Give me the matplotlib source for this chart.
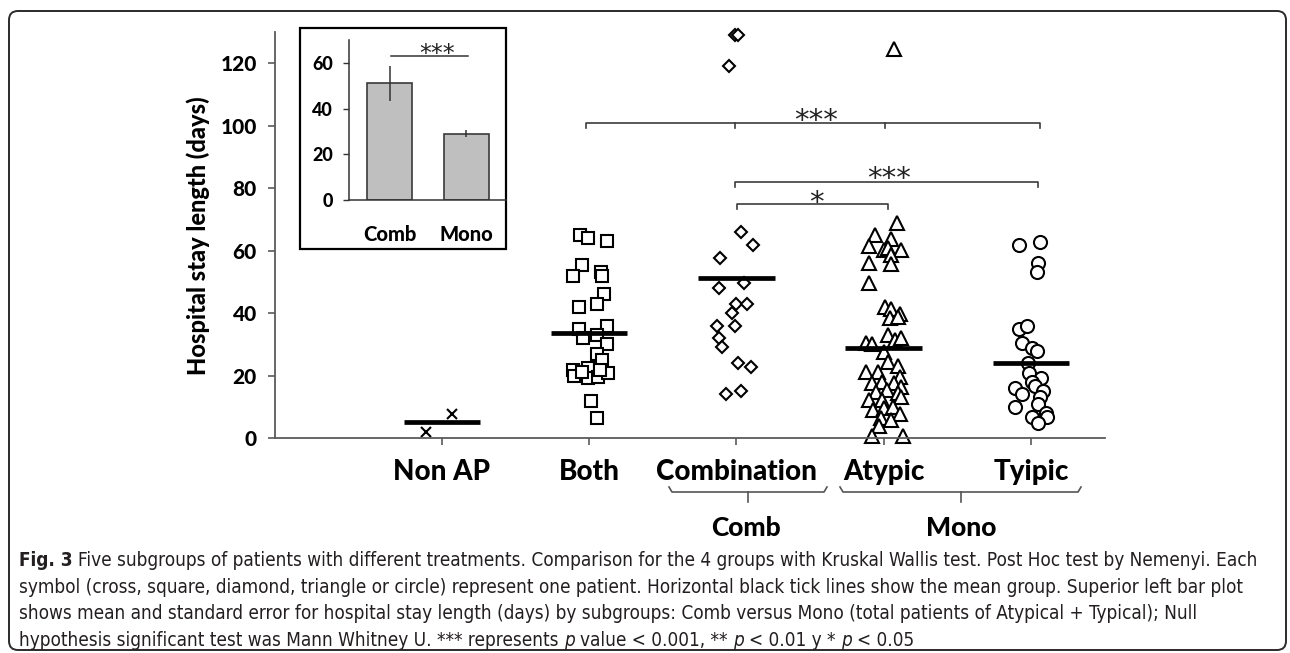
import os
import matplotlib
matplotlib.use('Agg')
import matplotlib.pyplot as plt
from matplotlib import font_manager
from matplotlib.font_manager import FontProperties
from matplotlib.patches import FancyBboxPatch, Rectangle
from matplotlib.lines import Line2D
import numpy as np

W, H = 1290, 653

groups = ['Non AP', 'Both', 'Combination', 'Atypic', 'Tyipic']
means = [5, 33.5, 51.3, 28.8, 24]

# hospital stay (days) per patient and the small sideways shift
nonap_y = [1.9, 7.7]
nonap_dx = [-0.11, 0.07]

both_y = [65, 64, 63, 55.4, 52, 53, 52, 46, 43, 42, 35, 32, 36, 33, 30, 27, 25,
          21.8, 19.7, 22.5, 19.2, 19.6, 20.9, 21.8, 21, 12, 6.3]
both_dx = [-0.06, -0.01, 0.12, -0.05, -0.11, 0.08, 0.09, 0.10, 0.05, -0.07, -0.07,
           -0.04, 0.12, 0.05, 0.12, 0.05, 0.09, -0.11, -0.10, -0.01, -0.01, 0.06,
           0.13, 0.07, -0.05, 0.01, 0.05]

comb_y = [66, 61.8, 57.6, 49.6, 48, 43, 43, 40, 35.8, 35.8, 32, 29, 24, 22.7,
          14, 15, 129, 129, 119]
comb_dx = [0.03, 0.11, -0.11, 0.05, -0.12, 0.0, 0.07, -0.03, -0.13, -0.01, -0.12,
           -0.10, 0.01, 0.10, -0.07, 0.03, -0.01, 0.01, -0.05]

atyp_y = [68.8, 65, 61.4, 63.7, 60.2, 60.8, 60.2, 58.6, 56, 55.7, 49.6,
          42, 41.3, 39.7, 38.4, 38.7,
          30.4, 30, 33, 31.4, 32, 27.5,
          24.3, 23, 21.1, 21.1, 19.5, 17.6, 17.9, 17.6, 16.3, 14.7, 15.4, 14.4,
          13.1, 12.2, 12.2, 9, 9.6, 10, 7.7, 6.4, 5.8, 3.8, 0.8, 0.8, 124.5]
atyp_dx = [0.09, -0.06, -0.10, 0.05, 0.0, 0.03, 0.12, 0.05, -0.10, 0.05, -0.10,
           0.01, 0.05, 0.11, 0.04, 0.10,
           -0.12, -0.08, 0.03, 0.08, 0.12, 0.0,
           0.03, 0.10, -0.12, -0.04, 0.11, -0.08, -0.01, 0.07, 0.12, -0.05, 0.02, 0.10,
           0.12, -0.10, -0.01, -0.07, 0.0, 0.06, 0.11, -0.02, 0.05, -0.03, -0.08, 0.13, 0.07]

typ_y = [61.8, 62.8, 56, 53, 34.8, 35.8, 30.4, 28.8, 27.8, 24, 20.8, 19.2, 18,
         16.6, 16, 14.1, 15, 13, 10.9, 9.9, 8, 6.8, 6.8, 4.8]
typ_dx = [-0.08, 0.06, 0.05, 0.04, -0.08, -0.03, -0.06, 0.01, 0.04, -0.02, -0.01,
          0.07, 0.01, 0.03, -0.11, -0.06, 0.08, 0.06, 0.05, -0.11, 0.10, 0.01, 0.11, 0.05]

inset_labels = ['Comb', 'Mono']
inset_means = [51, 29]
inset_err = [7.6, 1.5]

caption = [
    [("Fig. 3", 'bold', 'normal'),
     ("Five subgroups of patients with different treatments. Comparison for the 4 groups with Kruskal Wallis test. Post Hoc test by Nemenyi. Each", 'normal', 'normal')],
    [("symbol (cross, square, diamond, triangle or circle) represent one patient. Horizontal black tick lines show the mean group. Superior left bar plot", 'normal', 'normal')],
    [("shows mean and standard error for hospital stay length (days) by subgroups: Comb versus Mono (total patients of Atypical + Typical); Null", 'normal', 'normal')],
    [("hypothesis significant test was Mann Whitney U. *** represents", 'normal', 'normal'),
     ("p", 'normal', 'italic'), ("value < 0.001, **", 'normal', 'normal'),
     ("p", 'normal', 'italic'), ("< 0.01 y *", 'normal', 'normal'),
     ("p", 'normal', 'italic'), ("< 0.05", 'normal', 'normal')],
]

# a heavy face taken straight from its file (the reference labels are very dark)
fonts = font_manager.fontManager.ttflist
bold_file = None
for suffix in ['-Heavy', '-Black', '-ExtraBold', '-Bold']:
    for f in fonts:
        base = os.path.splitext(os.path.basename(f.fname))[0]
        if f.name in ('Lato', 'Open Sans', 'Noto Sans', 'Roboto') and base.endswith(suffix):
            bold_file = f.fname
            break
    if bold_file:
        break


def B(size):
    if bold_file:
        return FontProperties(fname=bold_file, size=size)
    return FontProperties(family='DejaVu Sans', weight='bold', size=size)


cap_font, cap_stretch = 'Lato', 'normal'
for f in fonts:
    if 'Narrow' in f.name or f.stretch in ('condensed', 'semi-condensed'):
        cap_font, cap_stretch = f.name, f.stretch
        break

fig = plt.figure(figsize=(W / 100, H / 100), dpi=100)
T = fig.dpi_scale_trans


def P(x, y):
    # picture pixels (origin top-left) -> inches
    return x / 100, (H - y) / 100


# outer rounded frame
fig.add_artist(FancyBboxPatch(P(9, 650), (1286 - 9) / 100, (650 - 11) / 100,
                              boxstyle='round,pad=0,rounding_size=0.09',
                              fill=False, lw=1.4, ec='#2b2b2b', transform=T))

# main scatter
ax = fig.add_axes([275 / W, 1 - 438 / H, (1105 - 275) / W, (438 - 32) / H])
ax.set_xlim(-0.134, 5.503)
ax.set_ylim(0, 130)
for s in ['top', 'right']:
    ax.spines[s].set_visible(False)
for s in ['left', 'bottom']:
    ax.spines[s].set_color('#5a5a5a')
    ax.spines[s].set_linewidth(1.3)

style = dict(ls='none', mfc='white', mec='black', mew=1.5, clip_on=False, zorder=2)
ax.plot(1 + np.array(nonap_dx), nonap_y, ls='none', marker='x', ms=7, mew=1.5,
        color='black', clip_on=False)
ax.plot(2 + np.array(both_dx), both_y, marker='s', ms=8.6, **style)
ax.plot(3 + np.array(comb_dx), comb_y, marker='D', ms=5.8, **style)
ax.plot(4 + np.array(atyp_dx), atyp_y, marker='^', ms=9.5, **style)
ax.plot(5 + np.array(typ_dx), typ_y, marker='o', ms=9.4, **style)

pos = np.arange(1, 6)
ax.hlines(means, pos - 0.26, pos + 0.26, colors='black', lw=3.4, zorder=3)

ax.set_xticks(pos)
ax.set_xticklabels(groups, fontproperties=B(20))
ax.set_yticks(range(0, 121, 20))
ax.set_yticklabels([str(v) for v in range(0, 121, 20)], fontproperties=B(15))
ax.tick_params(axis='x', length=5, width=1.2, color='#5a5a5a', pad=10)
ax.tick_params(axis='y', length=5, width=1.2, color='#5a5a5a', pad=8)

fig.text(*P(198, 236), 'Hospital stay length (days)', rotation=90,
         fontproperties=B(17), ha='center', va='center', transform=T)


# significance brackets
def bracket(x0, x1, y, mids=()):
    kw = dict(color='#3c3c3c', lw=1.2, clip_on=False)
    ax.plot([x0, x0, x1, x1], [y - 1.6, y, y, y - 1.6], **kw)
    for m in mids:
        ax.plot([m, m], [y, y - 1.6], **kw)


bracket(1.978, 5.061, 100.8, mids=(2.99, 4.009))
bracket(2.99, 5.047, 81.9)
bracket(3.003, 4.03, 74.9)
ast = dict(ha='center', va='baseline', fontsize=21, family='DejaVu Sans', color='#222222')
ax.text(3.54, 98.9, '***', **ast)
ax.text(4.036, 80.3, '***', **ast)
ax.text(3.54, 72.7, '*', **ast)

# group braces under the labels
bk = dict(color='#555555', lw=1.2, transform=T)
for x0, x1, xm in [(669, 827, 748), (840, 1081, 961)]:
    pts = [P(x0, 487), P(x0 + 3, 492), P(x1 - 3, 492), P(x1, 487)]
    fig.add_artist(Line2D([p[0] for p in pts], [p[1] for p in pts], **bk))
    a, b = P(xm, 492), P(xm, 502)
    fig.add_artist(Line2D([a[0], b[0]], [a[1], b[1]], **bk))
fig.text(*P(746, 528), 'Comb', fontproperties=B(19), ha='center', va='center', transform=T)
fig.text(*P(961, 528), 'Mono', fontproperties=B(19), ha='center', va='center', transform=T)

# inset bar plot
fig.add_artist(Rectangle(P(300, 249), (506 - 300) / 100, (249 - 28) / 100,
                         fc='white', ec='black', lw=1.6, transform=T, zorder=4))
axi = fig.add_axes([349 / W, 1 - 200 / H, (506 - 349) / W, (200 - 40) / H], zorder=5)
axi.patch.set_alpha(0)
axi.bar([0, 1], inset_means, width=0.584, color='#bfbfbf', edgecolor='#3a3a3a', lw=1.2)
axi.vlines([0, 1], np.array(inset_means) - np.array(inset_err),
           np.array(inset_means) + np.array(inset_err), color='#333333', lw=1.1)
axi.set_xlim(-0.526, 1.513)
axi.set_ylim(0, 70)
for s in ['top', 'right']:
    axi.spines[s].set_visible(False)
for s in ['left', 'bottom']:
    axi.spines[s].set_color('#333333')
    axi.spines[s].set_linewidth(1.1)
axi.set_xticks([0, 1])
axi.set_xticklabels(inset_labels, fontproperties=B(14.5))
axi.set_yticks(range(0, 61, 20))
axi.set_yticklabels([str(v) for v in range(0, 61, 20)], fontproperties=B(13))
axi.tick_params(axis='x', length=0, pad=18)
axi.tick_params(axis='y', length=4.5, width=1, color='#333333', pad=7)
axi.plot([0.02, 1.02], [63, 63], color='#333333', lw=1.1)
axi.text(0.617, 60.8, '***', ha='center', va='baseline', fontsize=17,
         family='DejaVu Sans', color='#222222')

# caption
r = fig.canvas.get_renderer()
cap = dict(family=[cap_font, 'DejaVu Sans'], fontstretch=cap_stretch)


def width_px(s, **kw):
    t = fig.text(0, 0, s, **kw)
    w = t.get_window_extent(r).width
    t.remove()
    return w


full1 = ' '.join(s for s, _, _ in caption[0])
fs = 13 * 1228 / width_px(full1, fontsize=13, **cap)
sp = width_px('a a', fontsize=fs, **cap) - width_px('aa', fontsize=fs, **cap)

for row, yb in zip(caption, [566, 593, 619, 646]):
    x = 19
    for s, wgt, sty in row:
        t = fig.text(*P(x, yb), s, fontsize=fs, fontweight=wgt, fontstyle=sty,
                     color='#231f20', va='baseline', transform=T, **cap)
        x += t.get_window_extent(r).width + sp

fig.savefig('out.png', dpi=100)
